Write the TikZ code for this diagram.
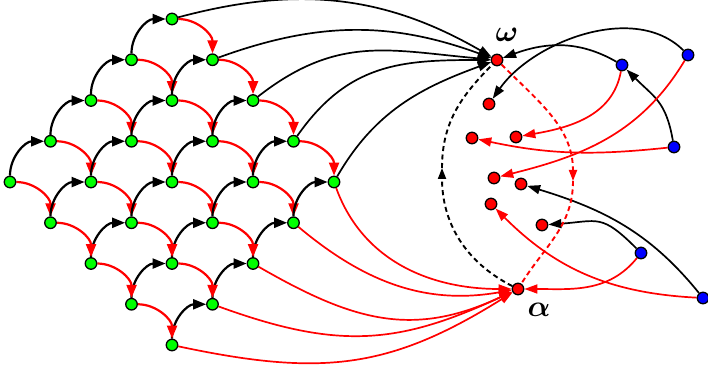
\documentclass[tikz,border=0pt]{standalone}
\usepackage{bm}
\usetikzlibrary{arrows.meta}
\definecolor{ngreen}{RGB}{0,255,0}
\definecolor{nred}{RGB}{255,0,0}
\definecolor{nblue}{RGB}{0,0,255}
\pgfdeclarelayer{bg}
\pgfsetlayers{bg,main}
\begin{document}
\begin{tikzpicture}[x=1pt,y=1pt,
  gn/.style={circle,draw=black,fill=ngreen,line width=1.3pt,minimum size=11.5pt,inner sep=0pt},
  rn/.style={gn,fill=nred},
  bn/.style={gn,fill=nblue},
  gtip/.style={-{Triangle[length=13pt,width=10pt]}},
  ltip/.style={-{Triangle[length=13pt,width=9pt]}},
  gblack/.style={draw=black,line width=2.2pt,gtip},
  gred/.style={draw=nred,line width=2.2pt,gtip},
  lblack/.style={draw=black,line width=1.7pt,ltip},
  lred/.style={draw=nred,line width=1.7pt,ltip},
  dblack/.style={draw=black,line width=1.9pt,dash pattern=on 5pt off 3.5pt},
  dred/.style={draw=nred,line width=1.9pt,dash pattern=on 5pt off 3.5pt},
  dtip/.style={-{Triangle[length=11pt,width=8pt]}},
  lab/.style={scale=3,inner sep=0pt}
]
\useasboundingbox (0,0) rectangle (708,371);
% grid nodes
\foreach \i in {0,...,4}{\foreach \j in {0,...,4}{
  \node[gn] (g\i\j) at ({10+40.5*(\i+\j)},{189+40.75*(\i-\j)}) {};}}
% right nodes
\node[rn] (omega) at (497,311) {};
\node[rn] (alpha) at (518,82) {};
\node[rn] (r1) at (489,267) {};
\node[rn] (r2) at (472,233) {};
\node[rn] (r3) at (516,234) {};
\node[rn] (r4) at (494,193) {};
\node[rn] (r5) at (521,187) {};
\node[rn] (r6) at (491,167) {};
\node[rn] (r7) at (542,146) {};
\node[bn] (b1) at (688,316) {};
\node[bn] (b2) at (622,306) {};
\node[bn] (b3) at (674,224) {};
\node[bn] (b4) at (641,118) {};
\node[bn] (b5) at (703,73) {};
\coordinate (rm) at (573,190);
\coordinate (lm) at (442,203);
\node[lab] (lw) at (507,336) {$\bm{\omega}$};
\node[lab] (la) at (539,61) {$\bm{\alpha}$};
\begin{pgfonlayer}{bg}
% grid edges
\foreach \i/\k in {0/1,1/2,2/3,3/4}{\foreach \j in {0,...,4}{
  \draw[gblack] (g\i\j) to[bend left=45] (g\k\j);
  \draw[gred] (g\j\i) to[bend left=45] (g\j\k);}}
% long edges to omega
\draw[lblack] (g40) to[out=15,in=150] (omega);
\draw[lblack] (g41) to[out=20,in=160] (omega);
\draw[lblack] (g42) to[out=38,in=175,looseness=1.1] (omega);
\draw[lblack] (g43) to[out=55,in=180,looseness=1.1] (omega);
\draw[lblack] (g44) to[out=60,in=200] (omega);
% long edges to alpha
\draw[lred] (g44) to[out=-70,in=180] (alpha);
\draw[lred] (g34) to[out=-40,in=190] (alpha);
\draw[lred] (g24) to[out=-30,in=205,looseness=1.1] (alpha);
\draw[lred] (g14) to[out=-20,in=205,looseness=1.1] (alpha);
\draw[lred] (g04) to[out=-12,in=212,looseness=1.1] (alpha);
% right side
\draw[lblack] (b1) to[out=135,in=55,looseness=0.9] (r1);
\draw[lblack] (b2) to[out=150,in=20] (omega);
\draw[lblack] (b3) to[out=100,in=-45,looseness=1.2] (b2);
\draw[lred] (b2) to[out=-100,in=10] (r3);
\draw[lred] (b1) to[out=-121,in=14] (r4);
\draw[lred] (b3) to[out=186,in=-12] (r2);
\draw[lblack] (b5) to[out=129,in=-17] (r5);
\draw[lblack] (b4) to[out=135,in=4,looseness=1.4] (r7);
\draw[lred] (b4) to[out=-129,in=0] (alpha);
\draw[lred] (b5) to[out=177,in=-45] (r6);
% dashed arcs
\draw[dred,dtip] (omega) to[out=-45,in=90] (rm);
\draw[dred] (rm) to[out=-90,in=58] (alpha);
\draw[dblack,dtip] (alpha) to[out=153,in=-90] (lm);
\draw[dblack] (lm) to[out=90,in=-135] (omega);
\end{pgfonlayer}
\end{tikzpicture}
\end{document}
